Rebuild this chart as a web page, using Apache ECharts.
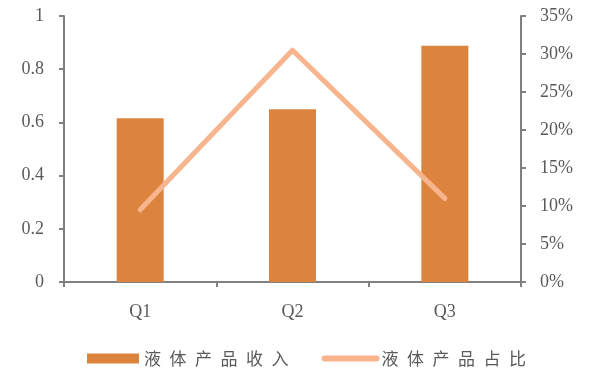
<!DOCTYPE html>
<html><head><meta charset="utf-8">
<script src="https://cdn.jsdelivr.net/npm/echarts@6/dist/echarts.min.js"></script>
<style>html,body{margin:0;padding:0;background:#fff}#c{width:593px;height:369px}</style>
</head><body><div id="c"></div>
<script>
var categories = ['Q1', 'Q2', 'Q3'];
var revenue = [0.616, 0.649, 0.888];
var share = [9.5, 30.5, 11.0];
var seriesNames = ['液体产品收入', '液体产品占比'];

var chart = echarts.init(document.getElementById('c'));
var axisColor = '#808080';
var labelStyle = {fontFamily: 'Liberation Serif', fontSize: 18, color: '#595959'};
chart.setOption({
  animation: false,
  grid: {left: 64, right: 72, top: 16, bottom: 87},
  legend: {
    bottom: -3, left: 82,
    itemGap: 33,
    itemWidth: 52, itemHeight: 10,
    textStyle: {fontFamily: 'Noto Sans CJK SC', fontSize: 17, color: '#595959'},
    formatter: function (n) { return n.split('').join('\u2002'); },
    data: [
      {name: seriesNames[0], icon: 'rect'},
      {name: seriesNames[1], itemStyle: {opacity: 0}, lineStyle: {width: 6, cap: 'round', color: '#F8B48C'}}
    ]
  },
  xAxis: {
    type: 'category', data: categories,
    axisLine: {lineStyle: {color: axisColor, width: 2}},
    axisTick: {show: true, length: 5, lineStyle: {color: axisColor, width: 2}},
    axisLabel: Object.assign({margin: 21}, labelStyle)
  },
  yAxis: [{
    type: 'value', min: 0, max: 1, interval: 0.2,
    splitLine: {show: false},
    axisLine: {show: true, lineStyle: {color: axisColor, width: 2}},
    axisTick: {show: true, length: 5, lineStyle: {color: axisColor, width: 2}},
    axisLabel: Object.assign({margin: 20}, labelStyle)
  }, {
    type: 'value', min: 0, max: 35, interval: 5, position: 'right',
    splitLine: {show: false},
    axisLine: {show: true, lineStyle: {color: axisColor, width: 2}},
    axisTick: {show: true, length: 5, lineStyle: {color: axisColor, width: 2}},
    axisLabel: Object.assign({margin: 19, formatter: '{value}%'}, labelStyle)
  }],
  series: [{
    name: seriesNames[0], type: 'bar', data: revenue, barWidth: 47,
    itemStyle: {color: '#DC843E'}
  }, {
    name: seriesNames[1], type: 'line', yAxisIndex: 1, data: share,
    symbol: 'none', color: '#F8B48C',
    lineStyle: {width: 5, color: '#F8B48C', cap: 'round', join: 'round'}
  }]
});
</script></body></html>
